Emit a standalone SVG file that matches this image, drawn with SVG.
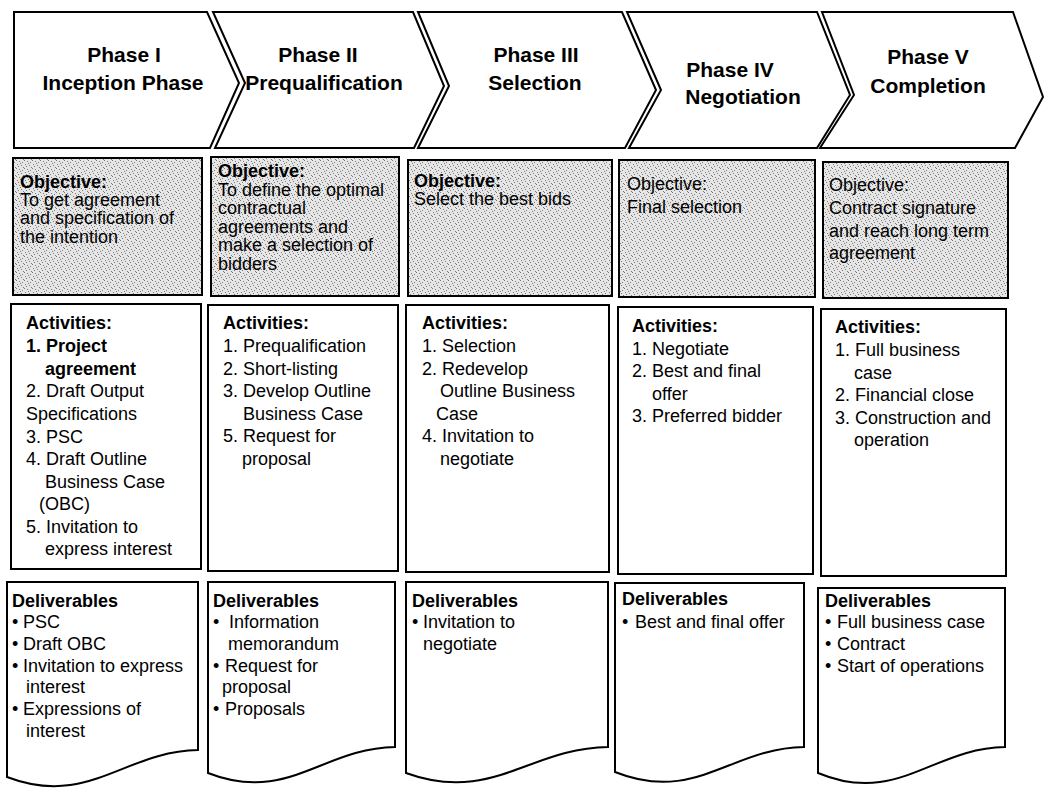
<svg xmlns="http://www.w3.org/2000/svg" width="1064" height="788" viewBox="0 0 1064 788">
<defs>
<pattern id="stip" width="8" height="8" patternUnits="userSpaceOnUse">
<rect width="8" height="8" fill="#e6e6e6"/>
<path d="M0 0h1v1h-1zM3 1h1v1h-1zM6 2h1v1h-1zM1 4h1v1h-1zM5 5h1v1h-1zM2 6h1v1h-1zM7 7h1v1h-1zM4 3h1v1h-1z" fill="#7a7a7a"/>
</pattern>
<style>
.chev{fill:#fff;stroke:#000;stroke-width:2;stroke-linejoin:miter}
.obj{fill:url(#stip);stroke:#000;stroke-width:2}
.box{fill:#fff;stroke:#000;stroke-width:2}
.h{font-family:"Liberation Sans",Arial,sans-serif;font-weight:bold;font-size:21px;text-anchor:middle;fill:#000}
.t{font-family:"Liberation Sans",Arial,sans-serif;font-size:18px;fill:#000}
.b{font-weight:bold}
</style>
</defs>
<rect width="1064" height="788" fill="#fff"/>

<g id="phase1">
<path class="chev" d="M14,12 L207,12 L239,83 L210,148 L14,148 Z"/>
<text class="h" x="124" y="62">Phase I</text>
<text class="h" x="123" y="90">Inception Phase</text>
</g>
<g id="phase2">
<path class="chev" d="M213,12 L413,12 L444,86 L414,148 L215,148 L245,83 Z"/>
<text class="h" x="318" y="62">Phase II</text>
<text class="h" x="324" y="90">Prequalification</text>
</g>
<g id="phase3">
<path class="chev" d="M418,12 L622,12 L656,90 L625,148 L418,148 L449,86 Z"/>
<text class="h" x="536" y="62">Phase III</text>
<text class="h" x="535" y="90">Selection</text>
</g>
<g id="phase4">
<path class="chev" d="M627,12 L817,12 L850,95 L817,148 L629,148 L661,90 Z"/>
<text class="h" x="730" y="77">Phase IV</text>
<text class="h" x="743" y="104">Negotiation</text>
</g>
<g id="phase5">
<path class="chev" d="M822,12 L1013,12 L1043,97 L1015,148 L820,148 L854,95 Z"/>
<text class="h" x="928" y="64">Phase V</text>
<text class="h" x="928" y="93">Completion</text>
</g>

<g id="objective1">
<rect class="obj" x="13" y="158" width="189" height="137"/>
<text class="t b" x="20" y="188">Objective:</text>
<text class="t" x="20" y="206">To get agreement</text>
<text class="t" x="20" y="224">and specification of</text>
<text class="t" x="20" y="243">the intention</text>
</g>
<g id="objective2">
<rect class="obj" x="211" y="157" width="188" height="139"/>
<text class="t b" x="218" y="177">Objective:</text>
<text class="t" x="218" y="196">To define the optimal</text>
<text class="t" x="218" y="214">contractual</text>
<text class="t" x="218" y="233">agreements and</text>
<text class="t" x="218" y="251">make a selection of</text>
<text class="t" x="218" y="270">bidders</text>
</g>
<g id="objective3">
<rect class="obj" x="408" y="160" width="204" height="136"/>
<text class="t b" x="414" y="187">Objective:</text>
<text class="t" x="414" y="205">Select the best bids</text>
</g>
<g id="objective4">
<rect class="obj" x="619" y="160" width="196" height="137"/>
<text class="t" x="627" y="190">Objective:</text>
<text class="t" x="627" y="213">Final selection</text>
</g>
<g id="objective5">
<rect class="obj" x="823" y="162" width="185" height="136"/>
<text class="t" x="829" y="191">Objective:</text>
<text class="t" x="829" y="214">Contract signature</text>
<text class="t" x="829" y="237">and reach long term</text>
<text class="t" x="829" y="259">agreement</text>
</g>

<g id="activities1">
<rect class="box" x="11" y="304" width="190" height="265"/>
<text class="t b" x="26" y="329">Activities:</text>
<text class="t b" x="26" y="352">1. Project</text>
<text class="t b" x="45" y="375">agreement</text>
<text class="t" x="26" y="397">2. Draft Output</text>
<text class="t" x="26" y="420">Specifications</text>
<text class="t" x="26" y="443">3. PSC</text>
<text class="t" x="26" y="465">4. Draft Outline</text>
<text class="t" x="45" y="488">Business Case</text>
<text class="t" x="39" y="510">(OBC)</text>
<text class="t" x="26" y="533">5. Invitation to</text>
<text class="t" x="45" y="555">express interest</text>
</g>
<g id="activities2">
<rect class="box" x="208" y="305" width="190" height="266"/>
<text class="t b" x="223" y="329">Activities:</text>
<text class="t" x="223" y="352">1. Prequalification</text>
<text class="t" x="223" y="375">2. Short-listing</text>
<text class="t" x="223" y="397">3. Develop Outline</text>
<text class="t" x="243" y="420">Business Case</text>
<text class="t" x="223" y="442">5. Request for</text>
<text class="t" x="242" y="465">proposal</text>
</g>
<g id="activities3">
<rect class="box" x="406" y="305" width="203" height="267"/>
<text class="t b" x="422" y="329">Activities:</text>
<text class="t" x="422" y="352">1. Selection</text>
<text class="t" x="422" y="375">2. Redevelop</text>
<text class="t" x="440" y="397">Outline Business</text>
<text class="t" x="436" y="420">Case</text>
<text class="t" x="422" y="442">4. Invitation to</text>
<text class="t" x="440" y="465">negotiate</text>
</g>
<g id="activities4">
<rect class="box" x="618" y="307" width="195" height="267"/>
<text class="t b" x="632" y="332">Activities:</text>
<text class="t" x="632" y="355">1. Negotiate</text>
<text class="t" x="632" y="377">2. Best and final</text>
<text class="t" x="652" y="400">offer</text>
<text class="t" x="632" y="422">3. Preferred bidder</text>
</g>
<g id="activities5">
<rect class="box" x="821" y="309" width="185" height="267"/>
<text class="t b" x="835" y="333">Activities:</text>
<text class="t" x="835" y="356">1. Full business</text>
<text class="t" x="854" y="379">case</text>
<text class="t" x="835" y="401">2. Financial close</text>
<text class="t" x="835" y="424">3. Construction and</text>
<text class="t" x="854" y="446">operation</text>
</g>

<g id="deliverables1">
<path class="box" d="M7,582 L198,582 L198,750 C125,751 88,808 7,777 Z"/>
<text class="t b" x="12" y="607">Deliverables</text>
<text class="t" x="12" y="628">•</text><text class="t" x="23" y="628">PSC</text>
<text class="t" x="12" y="650">•</text><text class="t" x="23" y="650">Draft OBC</text>
<text class="t" x="12" y="672">•</text><text class="t" x="23" y="672">Invitation to express</text>
<text class="t" x="26" y="693">interest</text>
<text class="t" x="12" y="715">•</text><text class="t" x="23" y="715">Expressions of</text>
<text class="t" x="26" y="737">interest</text>
</g>
<g id="deliverables2">
<path class="box" d="M208,582 L395,582 L395,747 C323,748 287,804 208,773 Z"/>
<text class="t b" x="213" y="607">Deliverables</text>
<text class="t" x="213" y="628">•</text><text class="t" x="229" y="628">Information</text>
<text class="t" x="228" y="650">memorandum</text>
<text class="t" x="213" y="672">•</text><text class="t" x="225" y="672">Request for</text>
<text class="t" x="222" y="693">proposal</text>
<text class="t" x="213" y="715">•</text><text class="t" x="225" y="715">Proposals</text>
</g>
<g id="deliverables3">
<path class="box" d="M406,582 L608,582 L608,747 C530,748 491,804 406,773 Z"/>
<text class="t b" x="412" y="607">Deliverables</text>
<text class="t" x="412" y="628">•</text><text class="t" x="423" y="628">Invitation to</text>
<text class="t" x="423" y="650">negotiate</text>
</g>
<g id="deliverables4">
<path class="box" d="M615,583 L804,583 L804,747 C731,748 695,804 615,772 Z"/>
<text class="t b" x="622" y="605">Deliverables</text>
<text class="t" x="622" y="628">•</text><text class="t" x="635" y="628">Best and final offer</text>
</g>
<g id="deliverables5">
<path class="box" d="M818,588 L1005,588 L1005,747 C933,748 897,806 818,773 Z"/>
<text class="t b" x="825" y="607">Deliverables</text>
<text class="t" x="825" y="628">•</text><text class="t" x="837" y="628">Full business case</text>
<text class="t" x="825" y="650">•</text><text class="t" x="837" y="650">Contract</text>
<text class="t" x="825" y="672">•</text><text class="t" x="837" y="672">Start of operations</text>
</g>
</svg>
